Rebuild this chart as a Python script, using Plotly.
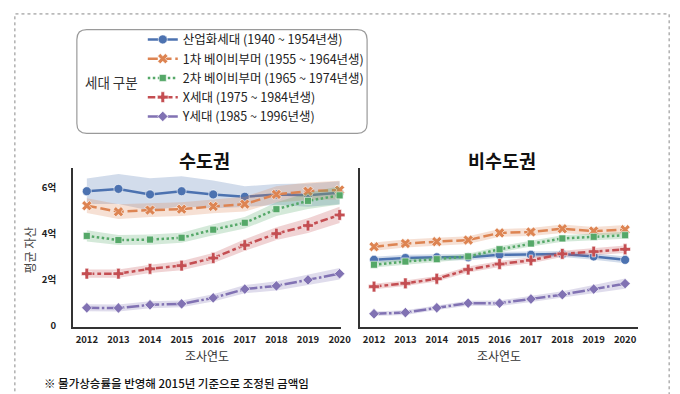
import plotly.graph_objects as go

W, H = 680, 394
FONT = "Noto Sans CJK KR"

years = [2012, 2013, 2014, 2015, 2016, 2017, 2018, 2019, 2020]
gen_names = ["산업화세대 (1940 ~ 1954년생)", "1차 베이비부머 (1955 ~ 1964년생)",
             "2차 베이비부머 (1965 ~ 1974년생)", "X세대 (1975 ~ 1984년생)",
             "Y세대 (1985 ~ 1996년생)"]

# 수도권 (capital region) mean assets, 억 won
cap_ind = [5.84, 5.94, 5.70, 5.84, 5.70, 5.60, 5.70, 5.67, 5.77]
cap_bb1 = [5.21, 4.95, 5.02, 5.06, 5.18, 5.28, 5.70, 5.84, 5.89]
cap_bb2 = [3.90, 3.72, 3.74, 3.82, 4.17, 4.47, 5.06, 5.42, 5.66]
cap_x = [2.26, 2.26, 2.47, 2.61, 2.94, 3.50, 4.00, 4.35, 4.81]
cap_y = [0.78, 0.77, 0.91, 0.95, 1.21, 1.59, 1.73, 1.99, 2.26]
# confidence band half-widths
cap_ind_ci = [0.55, 0.65, 0.70, 0.65, 0.60, 0.45, 0.45, 0.50, 0.50]
cap_bb1_ci = [0.32, 0.32, 0.30, 0.30, 0.30, 0.32, 0.35, 0.38, 0.40]
cap_bb2_ci = [0.24, 0.22, 0.22, 0.22, 0.24, 0.25, 0.30, 0.35, 0.40]
cap_x_ci = [0.18, 0.18, 0.18, 0.20, 0.22, 0.25, 0.28, 0.32, 0.35]
cap_y_ci = [0.15, 0.15, 0.15, 0.15, 0.16, 0.18, 0.20, 0.22, 0.25]

# 비수도권 (non-capital region)
non_ind = [2.86, 2.94, 2.97, 2.97, 3.08, 3.08, 3.11, 3.01, 2.86]
non_bb1 = [3.43, 3.57, 3.65, 3.72, 4.03, 4.07, 4.21, 4.11, 4.17]
non_bb2 = [2.65, 2.79, 2.89, 3.01, 3.32, 3.57, 3.79, 3.86, 3.93]
non_x = [1.70, 1.84, 2.04, 2.44, 2.68, 2.84, 3.12, 3.22, 3.32]
non_y = [0.52, 0.57, 0.78, 0.98, 0.98, 1.16, 1.35, 1.59, 1.83]
non_ind_ci = [0.14, 0.14, 0.13, 0.13, 0.13, 0.13, 0.13, 0.14, 0.15]
non_bb1_ci = [0.18, 0.17, 0.17, 0.17, 0.17, 0.17, 0.18, 0.18, 0.20]
non_bb2_ci = [0.12, 0.12, 0.12, 0.12, 0.13, 0.13, 0.14, 0.14, 0.15]
non_x_ci = [0.12, 0.12, 0.12, 0.13, 0.13, 0.13, 0.14, 0.15, 0.16]
non_y_ci = [0.10, 0.10, 0.10, 0.11, 0.12, 0.13, 0.15, 0.18, 0.22]

y_tick_vals = [0, 2, 4, 6]
y_tick_text = ["0", "2억", "4억", "6억"]

colors = ["#4C72B0", "#DD8452", "#55A868", "#C44E52", "#8172B3"]
fills = ["rgba(76,114,176,0.25)", "rgba(221,132,82,0.25)", "rgba(85,168,104,0.25)",
         "rgba(196,78,82,0.25)", "rgba(129,114,179,0.25)"]
lw = 2.5
dashes = ["solid", "10px,3.75px", "2.5px,2.5px", "7.5px,3px,3.75px,3px", "12.5px,2.5px,2.5px,2.5px"]
symbols = ["circle", "x", "square", "cross", "diamond"]
msizes = [9, 9, 7, 9, 8]

cap_vals = [cap_ind, cap_bb1, cap_bb2, cap_x, cap_y]
cap_cis = [cap_ind_ci, cap_bb1_ci, cap_bb2_ci, cap_x_ci, cap_y_ci]
non_vals = [non_ind, non_bb1, non_bb2, non_x, non_y]
non_cis = [non_ind_ci, non_bb1_ci, non_bb2_ci, non_x_ci, non_y_ci]

fig = go.Figure()

def add_region(vals_list, ci_list, xa, ya, legend):
    for i, (vals, ci) in enumerate(zip(vals_list, ci_list)):
        upper = [v + c for v, c in zip(vals, ci)]
        lower = [v - c for v, c in zip(vals, ci)]
        fig.add_trace(go.Scatter(
            x=years + years[::-1], y=upper + lower[::-1], fill="toself",
            fillcolor=fills[i], line=dict(width=0), mode="lines",
            hoverinfo="skip", showlegend=False, xaxis=xa, yaxis=ya))
        fig.add_trace(go.Scatter(
            x=years, y=vals, mode="lines+markers", name=gen_names[i],
            line=dict(color=colors[i], width=lw, dash=dashes[i]),
            marker=dict(symbol=symbols[i], size=msizes[i], color=colors[i],
                        line=dict(color="white", width=0.6)),
            cliponaxis=False, showlegend=legend, xaxis=xa, yaxis=ya))

add_region(cap_vals, cap_cis, "x", "y", True)
add_region(non_vals, non_cis, "x2", "y2", False)

def px(x):
    return x / W

def py(y):
    return 1 - y / H

axis_common = dict(showgrid=False, zeroline=False, showline=True,
                   linecolor="#333333", linewidth=1.6, ticks="",
                   tickfont=dict(family=FONT, size=9.5, color="#222222", weight=600))

fig.update_layout(
    width=W, height=H,
    margin=dict(l=0, r=0, t=0, b=0),
    paper_bgcolor="white", plot_bgcolor="white",
    font=dict(family=FONT, color="#222222"),
    xaxis=dict(domain=[px(66), px(338)], range=[2011.56, 2020.03],
               tickvals=years, ticktext=[str(y) for y in years], anchor="y",
               ticklabelstandoff=3, **axis_common),
    yaxis=dict(domain=[py(323), py(162)], range=[-0.05, 6.85],
               tickvals=y_tick_vals, ticktext=y_tick_text, anchor="x",
               ticklabelstandoff=13, **axis_common),
    xaxis2=dict(domain=[px(358), px(640)], range=[2011.56, 2020.4],
                tickvals=years, ticktext=[str(y) for y in years], anchor="y2",
                ticklabelstandoff=3, **axis_common),
    yaxis2=dict(domain=[py(323), py(162)], range=[-0.05, 6.85],
                tickvals=y_tick_vals, showticklabels=False, anchor="x2",
                **axis_common),
    showlegend=True,
    legend=dict(x=px(137), y=py(17), xanchor="left", yanchor="top",
                bgcolor="rgba(0,0,0,0)", borderwidth=0,
                font=dict(family=FONT, size=12.5, color="#222222"),
                itemwidth=30, tracegroupgap=0),
)

annotations = [
    dict(text="<b>수도권</b>", x=px(200), y=py(154), font=dict(size=18.5, color="#111111")),
    dict(text="<b>비수도권</b>", x=px(502), y=py(154), font=dict(size=18.5, color="#111111")),
    dict(text="조사연도", x=px(202), y=py(352), font=dict(size=12, color="#333333")),
    dict(text="조사연도", x=px(499), y=py(352), font=dict(size=12, color="#333333")),
    dict(text="평균 자산", x=px(22), y=py(245), textangle=-90,
         font=dict(size=12, color="#444444")),
    dict(text="세대 구분", x=px(105), y=py(75), font=dict(size=13.5, color="#333333")),
]
for a in annotations:
    a.update(xref="paper", yref="paper", showarrow=False,
             xanchor="center", yanchor="middle")
    a["font"]["family"] = FONT
    fig.add_annotation(**a)

fig.add_annotation(text="※ 물가상승률을 반영해 2015년 기준으로 조정된 금액임",
                   x=px(35), y=py(380), xref="paper", yref="paper",
                   xanchor="left", yanchor="middle", showarrow=False,
                   font=dict(family=FONT, size=11.5, color="#111111", weight=500))

# outer dotted frame
fig.add_shape(type="rect", xref="paper", yref="paper",
              x0=px(7), x1=px(672), y0=py(392), y1=py(6),
              line=dict(color="#888888", width=1, dash="dot"))

# rounded legend frame
x0, x1, y0, y1 = px(70), px(365), py(127), py(22)
rx, ry = 10 / W, 10 / H
path = (f"M {x0+rx},{y1} L {x1-rx},{y1} Q {x1},{y1} {x1},{y1-ry} "
        f"L {x1},{y0+ry} Q {x1},{y0} {x1-rx},{y0} L {x0+rx},{y0} "
        f"Q {x0},{y0} {x0},{y0+ry} L {x0},{y1-ry} Q {x0},{y1} {x0+rx},{y1} Z")
fig.add_shape(type="path", xref="paper", yref="paper", path=path,
              line=dict(color="#9a9a9a", width=1.2))

fig.write_html("out.html")
